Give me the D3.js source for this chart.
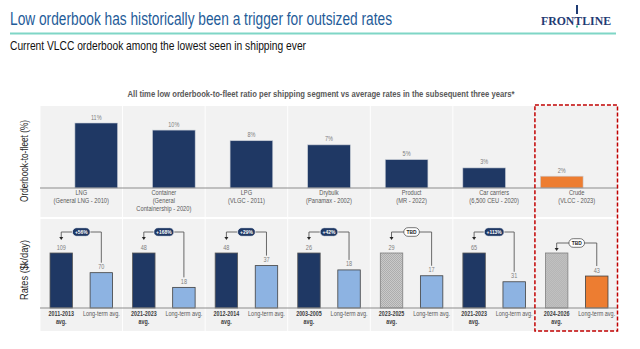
<!DOCTYPE html>
<html>
<head>
<meta charset="utf-8">
<script src="https://cdn.jsdelivr.net/npm/d3@7"></script>
<style>
  body { margin: 0; background: #fff; }
  svg { display: block; }
  text { font-family: "Liberation Sans", Arial, sans-serif; }
</style>
</head>
<body>
<svg id="chart" width="640" height="349"></svg>
<script>
// segments (top panel)
const segments = ["LNG", "Container", "LPG", "Drybulk", "Product", "Car carriers", "Crude"];
const segmentSub = [
  ["(General LNG - 2010)"],
  ["(General", "Containership - 2020)"],
  ["(VLGC - 2011)"],
  ["(Panamax - 2002)"],
  ["(MR - 2022)"],
  ["(6,500 CEU - 2020)"],
  ["(VLCC - 2023)"]
];
// orderbook-to-fleet ratio, %
const orderbook = [11.0, 9.8, 8.0, 7.3, 4.8, 3.4, 2.0];

// rates ($k/day) in the three years after the low vs long-term avg
const periods = ["2011-2013", "2021-2023", "2012-2014", "2003-2005", "2023-2025", "2021-2023", "2024-2026"];
const periodRates = [109, 48, 48, 26, 29, 65, null];
const longTermRates = [70, 18, 37, 18, 17, 31, 43];
const uplift = ["+56%", "+168%", "+29%", "+42%", "TBD", "+113%", "TBD"];
const estimated = [false, false, false, false, true, false, true];
// implied scale for the crude placeholder bar (no value shown)
const tbdRef = 74;

const navy = "#1f3864", lightBlue = "#8db3e2", orange = "#ed7d31";

const svg = d3.select("#chart");

// squeeze text horizontally (no narrow font available)
function squeeze(sel, f) {
  sel.each(function () {
    const w = this.getComputedTextLength();
    d3.select(this).attr("textLength", w * f).attr("lengthAdjust", "spacingAndGlyphs");
  });
  return sel;
}

// pattern for estimated bars
const defs = svg.append("defs");
const pat = defs.append("pattern").attr("id", "hatch")
  .attr("width", 2).attr("height", 2).attr("patternUnits", "userSpaceOnUse");
pat.append("rect").attr("width", 2).attr("height", 2).attr("fill", "#dcdcdc");
pat.append("rect").attr("width", 1).attr("height", 1).attr("fill", "#9a9a9a");
pat.append("rect").attr("x", 1).attr("y", 1).attr("width", 1).attr("height", 1).attr("fill", "#9a9a9a");

// header
svg.append("text")
  .attr("x", 10).attr("y", 25)
  .attr("font-size", 17.5).attr("fill", "#1f5c99")
  .attr("textLength", 382).attr("lengthAdjust", "spacingAndGlyphs")
  .text("Low orderbook has historically been a trigger for outsized rates");
svg.append("line")
  .attr("x1", 10).attr("x2", 616).attr("y1", 33.5).attr("y2", 33.5)
  .attr("stroke", "#7fd6c6").attr("stroke-width", 2);
svg.append("text")
  .attr("x", 10).attr("y", 50)
  .attr("font-size", 13).attr("fill", "#111")
  .attr("textLength", 296).attr("lengthAdjust", "spacingAndGlyphs")
  .text("Current VLCC orderbook among the lowest seen in shipping ever");

// logo
svg.append("text")
  .attr("x", 576).attr("y", 24.5).attr("text-anchor", "middle")
  .style("font-family", "'Liberation Serif', 'DejaVu Serif', serif").attr("font-weight", "bold")
  .attr("font-size", 12.5).attr("fill", "#1f3b73")
  .attr("textLength", 70).attr("lengthAdjust", "spacingAndGlyphs")
  .text("FRONTLINE");
svg.append("rect").attr("x", 576).attr("y", 5).attr("width", 2).attr("height", 9).attr("fill", "#1f3b73");
svg.append("rect").attr("x", 576).attr("y", 25.5).attr("width", 2).attr("height", 2).attr("fill", "#3bb39b");

svg.append("text")
  .attr("x", 321).attr("y", 97).attr("text-anchor", "middle")
  .attr("font-size", 8.5).attr("font-weight", "bold").attr("fill", "#595959")
  .attr("textLength", 387).attr("lengthAdjust", "spacingAndGlyphs")
  .text("All time low orderbook-to-fleet ratio per shipping segment vs average rates in the subsequent three years*");

// scales
const x = d3.scaleBand().domain(d3.range(segments.length)).range([40, 618]);
const xBar = d3.scaleBand().domain(d3.range(segments.length)).range([40, 618]).padding(0.45);
const xSub = d3.scaleBand().domain(["period", "lt"]).range([0, x.bandwidth()])
  .paddingInner(0.44).paddingOuter(0.25);

const topBase = 188, botBase = 308;
const yTop = d3.scaleLinear().domain([0, 11]).range([topBase, 123]);

// panel backgrounds
const cols = svg.append("g").selectAll("g").data(d3.range(segments.length)).join("g");
cols.append("rect")
  .attr("x", i => x(i) + 0.5).attr("width", x.bandwidth() - 1)
  .attr("y", 106).attr("height", 111).attr("fill", "#f2f2f2");
cols.append("rect")
  .attr("x", i => x(i) + 0.5).attr("width", x.bandwidth() - 1)
  .attr("y", 219).attr("height", 112).attr("fill", "#f2f2f2");

// top bars
svg.append("g").selectAll("rect").data(orderbook).join("rect")
  .attr("x", (d, i) => xBar(i)).attr("width", xBar.bandwidth())
  .attr("y", d => yTop(d)).attr("height", d => topBase - yTop(d))
  .attr("fill", (d, i) => i === 6 ? orange : navy)
  .attr("stroke", "#c8cdd6").attr("stroke-width", 0.6);

squeeze(svg.append("g").selectAll("text").data(orderbook).join("text")
  .attr("x", (d, i) => xBar(i) + xBar.bandwidth() / 2).attr("y", d => yTop(d) - 3.5)
  .attr("text-anchor", "middle").attr("font-size", 6.5).attr("fill", "#7f7f7f")
  .text(d => d3.format(".0f")(d) + "%"), 0.85);

const catLabels = svg.append("g").selectAll("text").data(segments).join("text")
  .attr("x", (d, i) => x(i) + x.bandwidth() / 2).attr("y", 195)
  .attr("text-anchor", "middle").attr("font-size", 6.5).attr("fill", "#595959");
catLabels.each(function (d, i) {
  const t = d3.select(this);
  [d].concat(segmentSub[i]).forEach((line, k) => {
    t.append("tspan").attr("x", x(i) + x.bandwidth() / 2).attr("dy", k ? 8 : 0).text(line);
  });
});
squeeze(catLabels.selectAll("tspan"), 0.88);

// bottom bars
segments.forEach((s, i) => {
  const g = svg.append("g").attr("transform", `translate(${x(i)},0)`);
  const pv = periodRates[i];
  const yb = d3.scaleLinear().domain([0, pv === null ? tbdRef : pv]).range([botBase, 253]);
  const px = xSub("period"), lx = xSub("lt"), bw = xSub.bandwidth();
  const pTop = yb(pv === null ? tbdRef : pv);
  const lTop = yb(longTermRates[i]);

  g.append("rect").attr("x", px).attr("width", bw)
    .attr("y", pTop).attr("height", botBase - pTop)
    .attr("fill", estimated[i] ? "url(#hatch)" : navy)
    .attr("stroke", estimated[i] ? "#7f7f7f" : "#595959").attr("stroke-width", 0.8);
  g.append("rect").attr("x", lx).attr("width", bw)
    .attr("y", lTop).attr("height", botBase - lTop)
    .attr("fill", i === 6 ? orange : lightBlue)
    .attr("stroke", "#404040").attr("stroke-width", 0.8);

  if (pv !== null) {
    squeeze(g.append("text").attr("x", px + bw / 2).attr("y", pTop - 3.5)
      .attr("text-anchor", "middle").attr("font-size", 6.5).attr("fill", "#7f7f7f").text(pv), 0.85);
  }
  squeeze(g.append("text").attr("x", lx + bw / 2).attr("y", lTop - 3.5)
    .attr("text-anchor", "middle").attr("font-size", 6.5).attr("fill", "#7f7f7f").text(longTermRates[i]), 0.85);

  // connector arrow
  const tipY = pv !== null ? pTop - 13 : pTop - 2;
  const cy = tipY - 8;
  const pcx = px + bw / 2, lcx = lx + bw / 2;
  g.append("path")
    .attr("d", `M${lcx},${lTop - 10}V${cy}H${pcx}V${tipY - 2.5}`)
    .attr("fill", "none").attr("stroke", "#595959").attr("stroke-width", 0.9);
  g.append("path")
    .attr("d", `M${pcx - 2},${tipY - 3}L${pcx + 2},${tipY - 3}L${pcx},${tipY}Z`)
    .attr("fill", "#262626");

  const tbd = uplift[i] === "TBD";
  const mx = (pcx + lcx) / 2;
  const pill = g.append("rect");
  const pt = g.append("text").attr("x", mx).attr("y", cy + 2.1)
    .attr("text-anchor", "middle").attr("font-size", 5.8).attr("font-weight", "bold")
    .attr("fill", tbd ? "#262626" : "#fff").text(uplift[i]);
  squeeze(pt, 0.85);
  const pw = pt.node().getComputedTextLength() * 0.85 + 7;
  pill.attr("x", mx - pw / 2).attr("y", cy - 4.3).attr("width", pw).attr("height", 8.6)
    .attr("rx", 4.3).attr("fill", tbd ? "#fff" : navy)
    .attr("stroke", tbd ? "#404040" : "#fff").attr("stroke-width", 0.7);

  // x labels
  const pl = g.append("text").attr("y", 316)
    .attr("text-anchor", "middle").attr("font-size", 6.3).attr("font-weight", "bold").attr("fill", "#404040");
  pl.append("tspan").attr("x", pcx).text(periods[i]);
  pl.append("tspan").attr("x", pcx).attr("dy", 8).text("avg.");
  squeeze(pl.selectAll("tspan"), 0.85);
  squeeze(g.append("text").attr("x", lcx).attr("y", 316)
    .attr("text-anchor", "middle").attr("font-size", 6.3).attr("fill", "#595959")
    .text("Long-term avg."), 0.87);
});

// baselines
[topBase, botBase].forEach(yv => {
  svg.append("line").attr("x1", 40).attr("x2", 618).attr("y1", yv).attr("y2", yv)
    .attr("stroke", "#8c8c8c").attr("stroke-width", 1.2);
});

// axis titles
svg.append("text")
  .attr("transform", "translate(28,161) rotate(-90)").attr("text-anchor", "middle")
  .attr("font-size", 10.5).attr("fill", "#262626")
  .attr("textLength", 82).attr("lengthAdjust", "spacingAndGlyphs")
  .text("Orderbook-to-fleet (%)");
svg.append("text")
  .attr("transform", "translate(28,270) rotate(-90)").attr("text-anchor", "middle")
  .attr("font-size", 10.5).attr("fill", "#262626")
  .attr("textLength", 60).attr("lengthAdjust", "spacingAndGlyphs")
  .text("Rates ($k/day)");

// highlight box around crude
svg.append("rect")
  .attr("x", x(6) - 0.5).attr("y", 105).attr("width", x.bandwidth()).attr("height", 226)
  .attr("fill", "none").attr("stroke", "#c00000").attr("stroke-width", 1.5)
  .attr("stroke-dasharray", "4,2");
</script>
</body>
</html>
